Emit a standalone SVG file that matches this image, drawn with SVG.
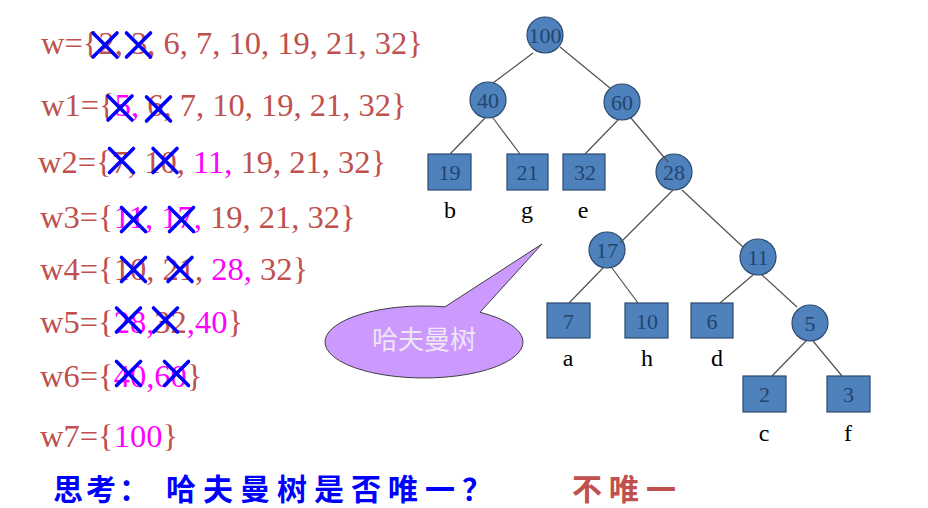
<svg xmlns="http://www.w3.org/2000/svg" xmlns:xlink="http://www.w3.org/1999/xlink" width="928" height="508" viewBox="0 0 928 508">
<style>
.w{font-family:"Liberation Serif","Times New Roman",serif;font-size:32.5px;fill:#C0504D}
.m{fill:#FF00FF}
.x{stroke:#0000FF;stroke-width:3.6;stroke-linecap:round;fill:none}
.nd{fill:#4F81BD;stroke:#2C4A6E;stroke-width:1.2}
.nt{font-family:"Liberation Serif","Times New Roman",serif;font-size:22px;fill:#22456F;text-anchor:middle}
.lb{font-family:"Liberation Serif","Times New Roman",serif;font-size:24px;fill:#000;text-anchor:middle}
.e{stroke:#505050;stroke-width:1.2;fill:none}
.q{font-family:"Noto Sans CJK SC",sans-serif;font-size:30px;font-weight:bold}
</style>
<defs>
<g id="X"><path class="x" d="M-12,-12 L12,12 M-12,12 L12,-12"/></g>
</defs>
<rect width="928" height="508" fill="#fff"/>

<g id="weights">
<text class="w" x="41" y="54">w={2, 3, 6, 7, 10, 19, 21, 32}</text>
<text class="w" x="41" y="116">w1={<tspan class="m">5,</tspan> 6, 7, 10, 19, 21, 32}</text>
<text class="w" x="38" y="173">w2={7, 10, <tspan class="m">11,</tspan> 19, 21, 32}</text>
<text class="w" x="40" y="228">w3={<tspan class="m">11, 17,</tspan> 19, 21, 32}</text>
<text class="w" x="40" y="280">w4={10, 21, <tspan class="m">28,</tspan> 32}</text>
<text class="w" x="40" y="333">w5={<tspan class="m">28,</tspan>32<tspan class="m">,40</tspan>}</text>
<text class="w" x="40" y="387">w6={<tspan class="m">40,60</tspan>}</text>
<text class="w" x="40" y="447">w7={<tspan class="m">100</tspan>}</text>
</g>

<g id="crosses">
<use xlink:href="#X" href="#X" x="105" y="45"/>
<use xlink:href="#X" href="#X" x="138.5" y="45"/>
<use xlink:href="#X" href="#X" x="120" y="108"/>
<use xlink:href="#X" href="#X" x="158.5" y="109"/>
<use xlink:href="#X" href="#X" x="121.5" y="160.5"/>
<use xlink:href="#X" href="#X" x="165" y="160.5"/>
<use xlink:href="#X" href="#X" x="133.5" y="219.5"/>
<use xlink:href="#X" href="#X" x="181.5" y="219.5"/>
<use xlink:href="#X" href="#X" x="133.5" y="269.5"/>
<use xlink:href="#X" href="#X" x="180" y="269.5"/>
<use xlink:href="#X" href="#X" x="128.5" y="320"/>
<use xlink:href="#X" href="#X" x="165.5" y="320"/>
<use xlink:href="#X" href="#X" x="128.5" y="373.5"/>
<use xlink:href="#X" href="#X" x="176.5" y="373.5"/>
</g>

<g id="callout">
<path d="M445,306.8 L542,244 L480,312.3 A99,36 0 1 1 445,306.8 Z" fill="#CC99FF" stroke="#404040" stroke-width="1"/>
<text x="424" y="349" font-family="'Noto Sans CJK SC',sans-serif" font-size="26" fill="#EEE6F2" text-anchor="middle">哈夫曼树</text>
</g>

<g id="n100"><circle class="nd" cx="545" cy="35" r="18"/><text class="nt" x="545" y="42.5">100</text></g>
<g id="n40"><circle class="nd" cx="488" cy="100" r="18"/><text class="nt" x="488" y="107.5">40</text></g>
<g id="n60"><circle class="nd" cx="622" cy="102" r="18"/><text class="nt" x="622" y="109.5">60</text></g>
<g id="n19"><rect class="nd" x="428" y="154" width="43" height="36"/><text class="nt" x="449.5" y="179.5">19</text></g>
<g id="n21"><rect class="nd" x="507" y="154" width="41" height="36"/><text class="nt" x="527.5" y="179.5">21</text></g>
<g id="n32"><rect class="nd" x="563" y="154" width="42" height="36"/><text class="nt" x="585" y="179.5">32</text></g>
<g id="n28"><circle class="nd" cx="674" cy="172" r="18"/><text class="nt" x="674" y="179.5">28</text></g>
<g id="n17"><circle class="nd" cx="607" cy="250" r="18"/><text class="nt" x="607" y="257.5">17</text></g>
<g id="n11"><circle class="nd" cx="758" cy="257" r="18"/><text class="nt" x="758" y="264.5">11</text></g>
<g id="n7"><rect class="nd" x="547" y="303" width="43" height="35"/><text class="nt" x="568.5" y="328.5">7</text></g>
<g id="n10"><rect class="nd" x="625" y="303" width="43" height="35"/><text class="nt" x="647" y="328.5">10</text></g>
<g id="n6"><rect class="nd" x="691" y="303" width="42" height="35"/><text class="nt" x="712" y="328.5">6</text></g>
<g id="n5"><circle class="nd" cx="810" cy="323" r="18"/><text class="nt" x="810" y="330.5">5</text></g>
<g id="n2"><rect class="nd" x="743" y="376" width="43" height="36"/><text class="nt" x="764.5" y="401.5">2</text></g>
<g id="n3"><rect class="nd" x="827" y="376" width="43" height="36"/><text class="nt" x="848.5" y="401.5">3</text></g>

<g id="connectors">
<line class="e" x1="533" y1="53" x2="493" y2="83"/>
<line class="e" x1="560" y1="47" x2="610" y2="88"/>
<line class="e" x1="485" y1="118" x2="450" y2="154"/>
<line class="e" x1="493" y1="118" x2="520" y2="154"/>
<line class="e" x1="618" y1="120" x2="585" y2="154"/>
<line class="e" x1="631" y1="118" x2="668" y2="162"/>
<line class="e" x1="673" y1="190" x2="620" y2="243"/>
<line class="e" x1="682" y1="190" x2="743" y2="247"/>
<line class="e" x1="603" y1="268" x2="569" y2="303"/>
<line class="e" x1="612" y1="268" x2="638" y2="303"/>
<line class="e" x1="753" y1="275" x2="720" y2="303"/>
<line class="e" x1="762" y1="275" x2="797" y2="307"/>
<line class="e" x1="806" y1="341" x2="772" y2="376"/>
<line class="e" x1="813" y1="341" x2="842" y2="376"/>
</g>

<g id="labels">
<text class="lb" x="450" y="218">b</text>
<text class="lb" x="527" y="218">g</text>
<text class="lb" x="583" y="218">e</text>
<text class="lb" x="568" y="366">a</text>
<text class="lb" x="647" y="366">h</text>
<text class="lb" x="717" y="366">d</text>
<text class="lb" x="764" y="441">c</text>
<text class="lb" x="848" y="441">f</text>
</g>

<g id="question">
<text class="q" x="53" y="500" fill="#0000FF" letter-spacing="3">思考：</text>
<text class="q" x="166" y="500" fill="#0000FF" letter-spacing="7">哈夫曼树是否唯一？</text>
<text class="q" x="572" y="500" fill="#C0504D" letter-spacing="7">不唯一</text>
</g>
</svg>
